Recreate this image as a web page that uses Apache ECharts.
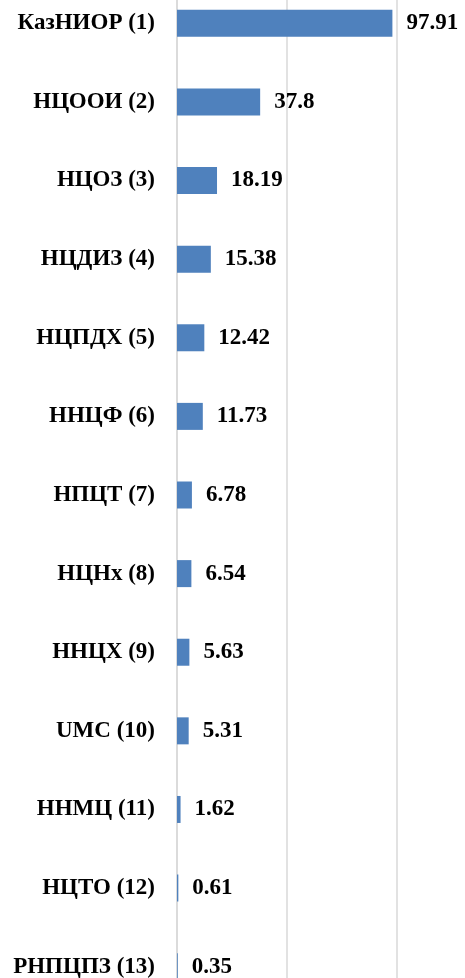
<!DOCTYPE html>
<html>
<head>
<meta charset="utf-8">
<script src="https://cdn.jsdelivr.net/npm/echarts@6/dist/echarts.min.js"></script>
<style>
  html, body { margin: 0; padding: 0; background: #fff; }
  #chart { width: 465px; height: 978px; }
</style>
</head>
<body>
<div id="chart"></div>
<script>
  var categories = ['КазНИОР (1)', 'НЦООИ (2)', 'НЦОЗ (3)', 'НЦДИЗ (4)', 'НЦПДХ (5)', 'ННЦФ (6)',
    'НПЦТ (7)', 'НЦНх (8)', 'ННЦХ (9)', 'UMC (10)', 'ННМЦ (11)', 'НЦТО (12)', 'РНПЦПЗ (13)'];
  var values = [97.91, 37.8, 18.19, 15.38, 12.42, 11.73, 6.78, 6.54, 5.63, 5.31, 1.62, 0.61, 0.35];

  var chart = echarts.init(document.getElementById('chart'));
  var font = '"Liberation Serif", "Times New Roman", serif';

  chart.setOption({
    animation: false,
    grid: {
      left: 177,
      right: -42,
      top: -16,
      bottom: -28,
      containLabel: false,
      outerBoundsMode: 'none'
    },
    xAxis: {
      type: 'value',
      min: 0,
      max: 150,
      interval: 50,
      axisLabel: { show: false },
      axisLine: { show: false },
      axisTick: { show: false },
      splitLine: { lineStyle: { color: '#d9d9d9', width: 1.5 } }
    },
    yAxis: {
      type: 'category',
      inverse: true,
      data: categories,
      axisLine: { show: true, lineStyle: { color: '#d9d9d9', width: 1.5 } },
      axisTick: { show: false },
      axisLabel: {
        margin: 22,
        color: '#000',
        fontFamily: font,
        fontWeight: 'bold',
        fontSize: 23
      }
    },
    series: [{
      type: 'bar',
      data: values,
      barWidth: 27,
      itemStyle: { color: '#4f81bd' },
      label: {
        show: true,
        position: 'right',
        distance: 14,
        color: '#000',
        fontFamily: font,
        fontWeight: 'bold',
        fontSize: 23
      }
    }]
  });
</script>
</body>
</html>
